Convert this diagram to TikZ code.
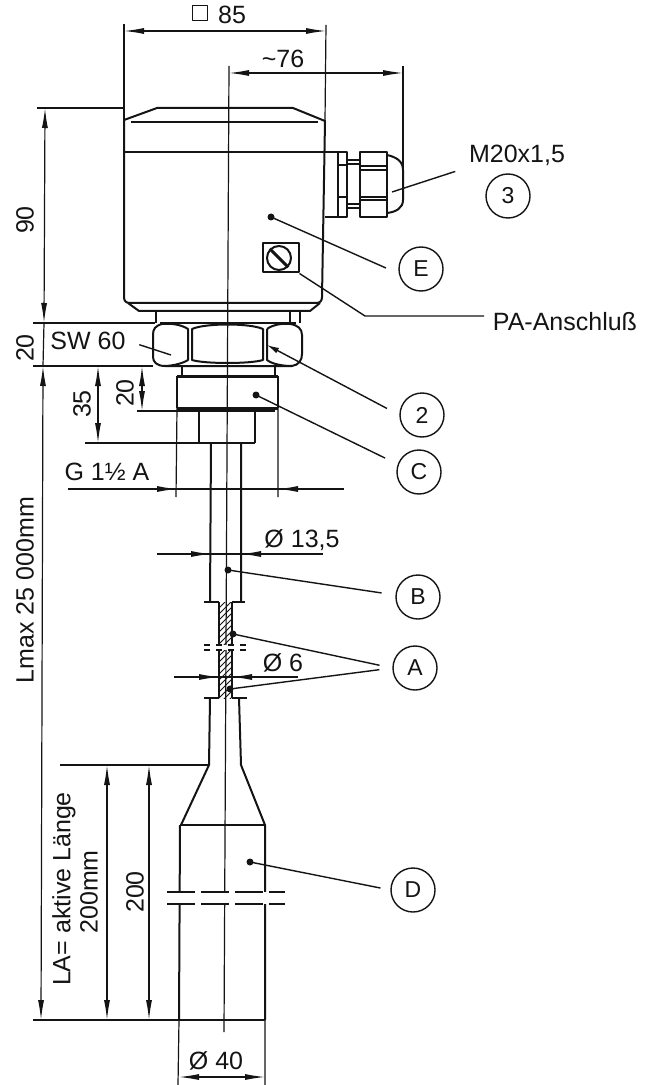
\documentclass[tikz,border=0pt]{standalone}
\usepackage{fontspec}
\setmainfont{Liberation Sans}
\usetikzlibrary{arrows.meta, patterns}
\definecolor{inkblack}{HTML}{141414}

\begin{document}
\begin{tikzpicture}[x=0.5pt, y=-0.5pt, inkblack, line join=round,
    outline/.style={line width=1pt},
    heavyline/.style={line width=1.5pt},
    thinline/.style={line width=0.6pt},
    dimline/.style={line width=0.6pt, {Latex[length=10pt,width=3pt]}-{Latex[length=10pt,width=3pt]}},
    dimtip/.style={line width=0.6pt, -{Latex[length=10pt,width=3pt]}},
    leader/.style={line width=0.7pt},
    leaderdot/.style={circle, fill=inkblack, inner sep=0pt, minimum size=3.5pt},
    tagcircle/.style={circle, draw, line width=0.7pt, inner sep=0pt, minimum size=22pt, font=\fontsize{11.5}{11.5}\selectfont},
    dimlabel/.style={inner sep=1pt, font=\fontsize{12.5}{12.5}\selectfont},
    sidelabel/.style={dimlabel, rotate=90}
  ]
  \useasboundingbox (0,0) rectangle (651,1085);
  \fill[white] (0,0) rectangle (651,1085);

  % Centre line
  \draw[thinline] (229,66) -- (224,1032);

  % Housing
  \draw[outline] (124,120) -- (157,108) -- (293,108) -- (325,121) -- (322,297)
    .. controls (322,301) and (320,303) .. (316,303) -- (130,303)
    .. controls (126,303) and (124,301) .. (124,297) -- cycle;
  \draw[thinline] (131,122) -- (318,122);
  \draw[outline] (124,152) -- (338,152);
  \draw[outline] (128,303) -- (139,311) -- (310,311) -- (320,303);

  % Cable gland
  \draw[outline] (325,152) -- (347,152) -- (347,217) -- (325,217);
  \draw[thinline] (338,152) -- (338,217);
  \foreach \yy in {165,197} {
    \draw[thinline] (338,\yy) -- (347,\yy);
  }
  \draw[thinline] (347,160) -- (360,160) (347,164) -- (360,164);
  \draw[thinline] (347,204) -- (360,204) (347,208) -- (360,208);
  \draw[outline] (360,152) rectangle (387,217);
  \foreach \yy in {166,170,197,200} {
    \draw[thinline] (360,\yy) -- (387,\yy);
  }
  \draw[outline] (387,155) .. controls (396,157) and (403,161) .. (403,170) -- (403,200)
    .. controls (403,208) and (396,212) .. (387,213);

  % Earth screw
  \node[draw, outline, minimum width=18pt, minimum height=14.5pt, inner sep=0pt] (screwplate) at (280.5,258) {};
  \node[circle, draw, outline, minimum size=12pt, inner sep=0pt] (screwhead) at (279,258) {};
  \draw[heavyline] (screwhead.135) -- (screwhead.-45);

  % Hexagon and neck
  \draw[outline] (156,311) -- (156,323) (300,311) -- (300,323) (290,311) -- (290,323);
  \draw[outline] (160,323) -- (296,323);
  \draw[outline] (162,324) .. controls (155,326) and (153,329) .. (153,335) -- (153,357)
    .. controls (153,362) and (157,366) .. (165,366) -- (292,366)
    .. controls (299,365) and (302,360) .. (302,354) -- (302,335)
    .. controls (302,329) and (298,325) .. (290,324);
  \draw[outline] (162,324) .. controls (172,323) and (182,325) .. (188,329) -- (188,360)
    .. controls (182,364) and (170,366) .. (165,366);
  \draw[outline] (192,329) .. controls (205,323) and (250,323) .. (263,329) -- (263,360)
    .. controls (250,364) and (205,364) .. (192,360) -- cycle;
  \draw[outline] (267,329) .. controls (272,325) and (282,323) .. (290,324);
  \draw[outline] (267,329) -- (267,360) .. controls (272,364) and (282,366) .. (292,366);
  \draw[outline] (182,366) -- (182,376) (275,366) -- (275,376);

  % Thread block and shank
  \draw[heavyline] (177,376) -- (278,376) (177,408) -- (278,408);
  \draw[outline] (177,376) -- (177,408) (278,376) -- (278,408);
  \draw[thinline] (177,408) -- (176,497) (278,408) -- (278,497);
  \draw[outline] (255,411) -- (255,443) (199,411) -- (199,443);
  \draw[outline] (211,443) -- (210,602) (241,443) -- (241,602);

  % Hatched cable
  \fill[pattern=north east lines, pattern color=inkblack] (219,602) rectangle (232,698);
  \draw[outline] (219,602) -- (219,698) (232,602) -- (232,698);
  \draw[outline] (204,602) -- (219,602) (232,602) -- (245,602);
  \draw[outline] (204,698) -- (219,698) (232,698) -- (247,698);
  \fill[white] (204,645) rectangle (247,650);
  \draw[thinline, dashed] (204,645) -- (247,645) (204,650) -- (247,650);

  % Lower rod and weight
  \draw[outline] (210,698) -- (209,765) (239,698) -- (241,765);
  \draw[outline] (209,765) -- (181,825) (241,765) -- (265,825);
  \draw[outline] (180,825) -- (266,825);
  \draw[outline] (180,825) -- (179,1020) (265,825) -- (265,1020);
  \fill[white] (165,892) rectangle (290,904);
  \foreach \yy in {892,904} {
    \draw[thinline, dash pattern=on 14pt off 3pt] (167,\yy) -- (285,\yy);
  }

  % Extension lines
  \draw[thinline] (124,24) -- (124,120);
  \draw[thinline] (326,25) -- (325,121);
  \draw[thinline] (403,66) -- (403,170);
  \draw[thinline] (37,108) -- (124,108);
  \draw[thinline] (33,323) -- (155,323);
  \draw[thinline] (33,366) -- (153,366);
  \draw[thinline] (137,411) -- (177,411) -- (275,411);
  \draw[thinline] (85,443) -- (255,443);
  \draw[thinline] (60,765) -- (209,765);
  \draw[thinline] (33,1020) -- (265,1020);
  \draw[thinline] (179,1020) -- (178,1085) (265,1020) -- (265,1085);

  % Dimension lines
  \draw[dimline] (124,31) -- (326,31);
  \draw[dimline] (229,73) -- (403,73);
  \draw[dimline] (45,108) -- (44,323);
  \draw[thinline] (44,323) -- (43,366);
  \draw[dimline] (43,366) -- (41,1020);
  \draw[dimline] (98,366) -- (98,443);
  \draw[dimline] (142,366) -- (142,411);
  \draw[thinline] (68,489) -- (344,489);
  \draw[dimtip] (150,489) -- (177,489);
  \draw[dimtip] (305,489) -- (278,489);
  \draw[thinline] (157,554) -- (323,554);
  \draw[dimtip] (185,554) -- (211,554);
  \draw[dimtip] (267,554) -- (241,554);
  \draw[thinline] (174,677) -- (298,677);
  \draw[dimtip] (197,677) -- (219,677);
  \draw[dimtip] (254,677) -- (232,677);
  \draw[dimline] (107,765) -- (107,1020);
  \draw[dimline] (149,765) -- (149,1020);
  \draw[dimline] (179,1077) -- (265,1077);

  % Dimension texts
  \node[draw, thinline, minimum size=7.5pt, inner sep=0pt] (squaremark) at (200,13) {};
  \node[dimlabel] (width85) at (232,15) {85};
  \node[dimlabel] (width76) at (283,59) {\textasciitilde 76};
  \node[sidelabel] (height90) at (25,220) {90};
  \node[sidelabel] (height20) at (25,348) {20};
  \node[dimlabel] (sw60) at (88,341) {SW 60};
  \node[sidelabel] (thread35) at (82,404) {35};
  \node[sidelabel] (thread20) at (125,393) {20};
  \node[dimlabel] (threadG) at (107,472) {G 1½ A};
  \node[sidelabel] (lmax) at (25,590) {Lmax 25 000mm};
  \node[dimlabel] (dia135) at (302,540) {Ø 13,5};
  \node[dimlabel] (dia6) at (283,663) {Ø 6};
  \node[sidelabel] (activeA) at (64,889) {LA= aktive Länge};
  \node[sidelabel] (activeB) at (89,892) {200mm};
  \node[sidelabel] (active200) at (135,892) {200};
  \node[dimlabel] (dia40) at (216,1061) {Ø 40};
  \node[dimlabel] (glandM) at (517,155) {M20x1,5};
  \node[dimlabel] (paterm) at (565,322) {PA-Anschluß};

  % Position tags
  \foreach \tagname/\xx/\yy/\txt in {tagThree/508/196/3, tagE/421/269/E, tagTwo/422/415/2, tagC/419/472/C,
      tagB/418/597/B, tagA/415/668/A, tagD/413/890/D} {
    \node[tagcircle] (\tagname) at (\xx,\yy) {\txt};
  }

  % Leader lines
  \node[leaderdot] (dotE) at (271,217) {};
  \node[leaderdot] (dotC) at (256,395) {};
  \node[leaderdot] (dotB) at (228,570) {};
  \node[leaderdot] (dotAa) at (233,634) {};
  \node[leaderdot] (dotAb) at (230,689) {};
  \node[leaderdot] (dotD) at (250,862) {};
  \coordinate (tipTwo) at (267,345);
  \coordinate (tipGland) at (392,192);
  \coordinate (bendPA) at (365,316);
  \coordinate (endPA) at (484,316);
  \coordinate (tipSW) at (171,355);
  \draw[leader, shorten >=7pt] (dotE.center) -- (tagE.192);
  \draw[leader, shorten >=7pt] (dotC.center) -- (tagC.160);
  \draw[leader, shorten >=7pt] (dotB.center) -- (tagB.175);
  \draw[leader, shorten >=6.5pt] (dotAa.center) -- (tagA.west);
  \draw[leader, shorten >=6.5pt] (dotAb.center) -- (tagA.west);
  \draw[leader, shorten >=5pt] (dotD.center) -- (tagD.west);
  \draw[leader, shorten >=7pt, {Latex[length=6pt,width=3pt]}-] (tipTwo) -- (tagTwo.west);
  \draw[leader, shorten >=6pt] (tipGland) -- (glandM.south west);
  \draw[leader] (screwplate.south east) -- (bendPA) -- (endPA);
  \draw[leader, shorten <=6pt] (sw60.east) -- (tipSW);
\end{tikzpicture}
\end{document}
